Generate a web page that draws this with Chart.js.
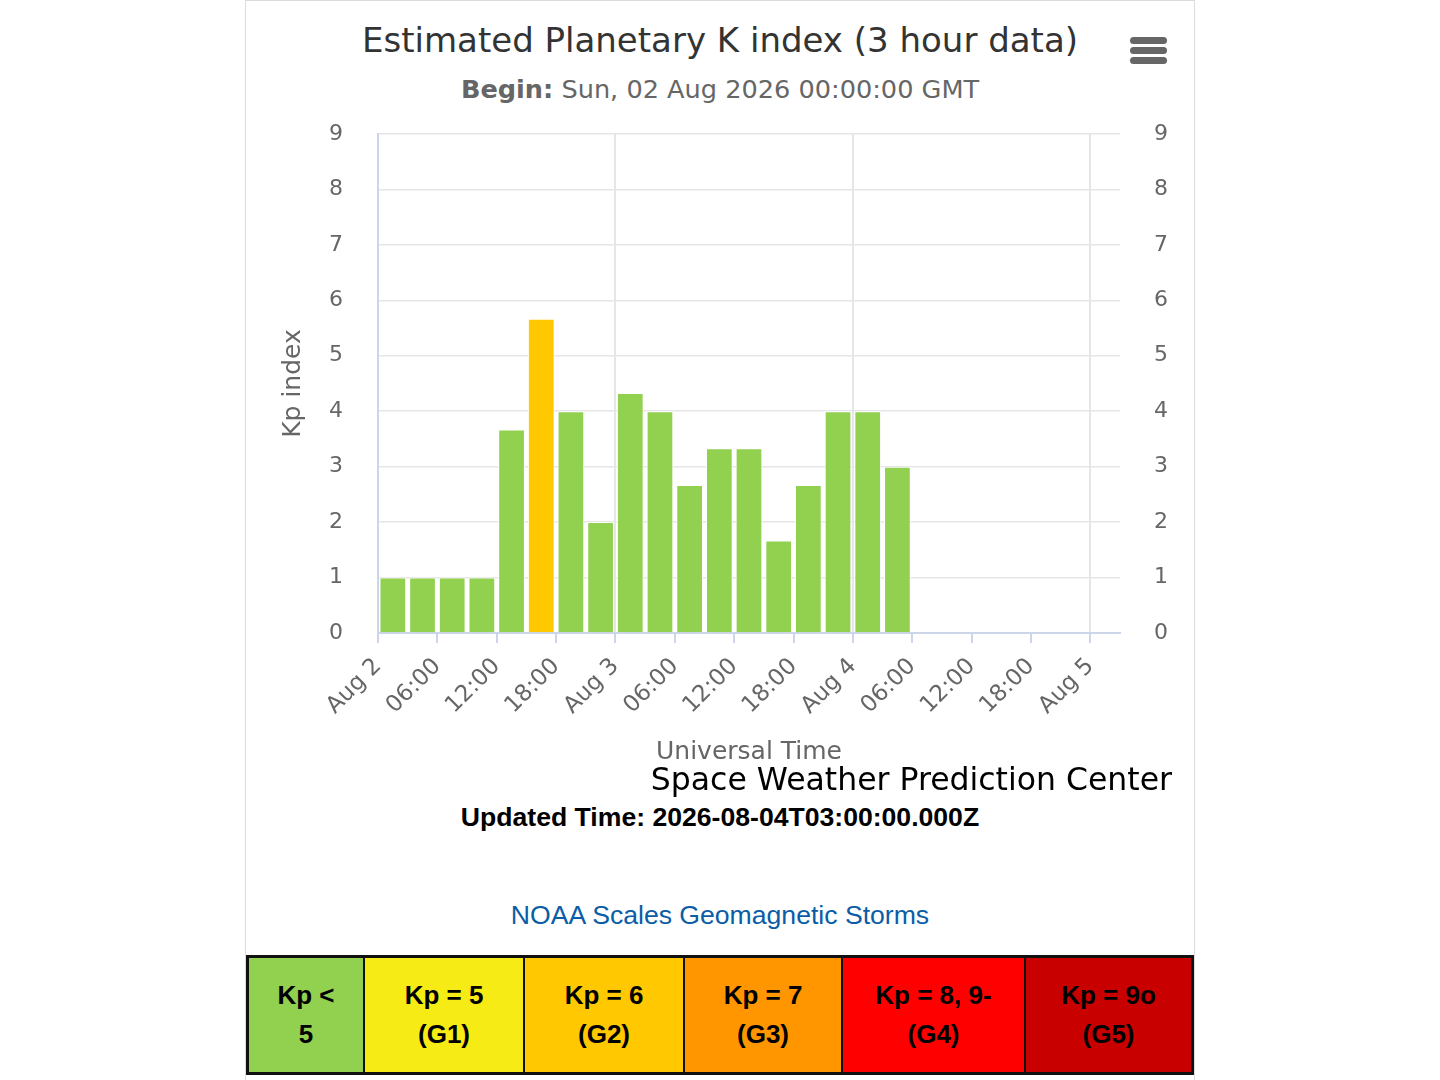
<!DOCTYPE html>
<html>
<head>
<meta charset="utf-8">
<title>Estimated Planetary K index</title>
<script src="https://cdn.jsdelivr.net/npm/chart.js@4.4.1/dist/chart.umd.min.js"></script>
<style>
  body { margin: 0; width: 1440px; height: 1080px; background: #fff; position: relative; overflow: hidden; font-family: 'DejaVu Sans', sans-serif; }
  #frame { position: absolute; left: 245px; top: 0; width: 948px; height: 1100px; border: 1px solid #dcdcdc; }
  #title { position: absolute; left: 245px; width: 950px; top: 20px; line-height: 40px; font-size: 34px; color: #333; text-align: center; }
  #subtitle { position: absolute; left: 245px; width: 950px; top: 74px; line-height: 30px; font-size: 25.6px; color: #666; text-align: center; }
  #menu { position: absolute; left: 1130px; top: 37px; width: 37px; }
  #menu div { height: 7px; margin-bottom: 3px; background: #666; border-radius: 3.5px; }
  #box { position: absolute; left: 245px; top: 110px; width: 950px; height: 660px; }
  #credits { position: absolute; right: 268px; top: 761px; line-height: 36px; font-size: 31.5px; color: #000; }
  #updated { position: absolute; left: 245px; width: 950px; top: 802px; line-height: 32px; font: bold 26.6px 'Liberation Sans', Arial, sans-serif; color: #000; text-align: center; }
  #noaa { position: absolute; left: 245px; width: 950px; top: 900px; line-height: 32px; font: 26.6px 'Liberation Sans', Arial, sans-serif; color: #0a5da6; text-align: center; }
  #scales { position: absolute; left: 246px; top: 955px; width: 948px; height: 120px; border-collapse: collapse; table-layout: fixed; border: 3px solid #111; }
  #scales td { border: 2px solid #111; text-align: center; vertical-align: middle; font: bold 26px/39px 'Liberation Sans', Arial, sans-serif; color: #000; padding: 0; }
</style>
</head>
<body>
<div id="frame"></div>
<div id="title">Estimated Planetary K index (3 hour data)</div>
<div id="subtitle"><b>Begin:</b> Sun, 02 Aug 2026 00:00:00 GMT</div>
<div id="menu"><div></div><div></div><div></div></div>
<div id="box"><canvas id="kpChart"></canvas></div>
<div id="credits">Space Weather Prediction Center</div>
<div id="updated">Updated Time: 2026-08-04T03:00:00.000Z</div>
<div id="noaa">NOAA Scales Geomagnetic Storms</div>
<table id="scales">
  <tr>
    <td style="width:114px;background:#92d050">Kp &lt;<br>5</td>
    <td style="width:158px;background:#f6eb14">Kp = 5<br>(G1)</td>
    <td style="width:158px;background:#ffc800">Kp = 6<br>(G2)</td>
    <td style="width:156px;background:#ff9600">Kp = 7<br>(G3)</td>
    <td style="width:181px;background:#ff0000">Kp = 8, 9-<br>(G4)</td>
    <td style="background:#c80000">Kp = 9o<br>(G5)</td>
  </tr>
</table>
<script>
// 3 hour periods (start time, UTC)
const timeTags = [
  "2026-08-02T00:00Z", "2026-08-02T03:00Z", "2026-08-02T06:00Z", "2026-08-02T09:00Z",
  "2026-08-02T12:00Z", "2026-08-02T15:00Z", "2026-08-02T18:00Z", "2026-08-02T21:00Z",
  "2026-08-03T00:00Z", "2026-08-03T03:00Z", "2026-08-03T06:00Z", "2026-08-03T09:00Z",
  "2026-08-03T12:00Z", "2026-08-03T15:00Z", "2026-08-03T18:00Z", "2026-08-03T21:00Z",
  "2026-08-04T00:00Z", "2026-08-04T03:00Z"
];
// estimated Kp for each period
const kpValues = [1, 1, 1, 1, 3.67, 5.67, 4, 2, 4.33, 4, 2.67, 3.33, 3.33, 1.67, 2.67, 4, 4, 3];
// x axis labels, one every 6 hours from Aug 2
const tickLabels = ["Aug 2", "06:00", "12:00", "18:00", "Aug 3", "06:00", "12:00", "18:00",
  "Aug 4", "06:00", "12:00", "18:00", "Aug 5"];
const kpTicks = [0, 1, 2, 3, 4, 5, 6, 7, 8, 9];

const beginTime = Date.parse("2026-08-02T00:00Z");
const HOUR = 3600 * 1000;

//NOAA G scale colours
function kpColor(kp) {
  const k = Math.round(kp);
  if (k < 5) return "#92d050";
  if (k === 5) return "#f6eb14";
  if (k === 6) return "#ffc800";
  if (k === 7) return "#ff9600";
  if (k < 9) return "#ff0000";
  return "#c80000";
}

//bars sit in the middle of their 3 hour period
const points = timeTags.map((t, i) => ({
  x: (Date.parse(t) - beginTime) / HOUR + 1.5,
  y: kpValues[i],
}));

const labelFont = { family: "'DejaVu Sans', sans-serif", size: 22 };
const titleFont = { family: "'DejaVu Sans', sans-serif", size: 25 };

const ctx = document.getElementById("kpChart").getContext("2d");
new Chart(ctx, {
  type: "bar",
  data: {
    datasets: [
      {
        label: "Kp",
        data: points,
        backgroundColor: kpValues.map(kpColor),
        borderColor: "#ffffff",
        borderWidth: 1,
        barPercentage: 0.9,
        categoryPercentage: 1,
        yAxisID: "y",
      },
    ],
  },
  options: {
    responsive: true,
    maintainAspectRatio: false,
    animation: false,
    layout: { padding: { top: 24, left: 0, right: 0, bottom: 0 } },
    plugins: {
      legend: { display: false },
      title: { display: false },
      tooltip: { enabled: false },
    },
    scales: {
      x: {
        type: "linear",
        min: 0,
        max: 75,
        offset: false,
        afterBuildTicks: (scale) => {
          scale.ticks = tickLabels.map((_, i) => ({ value: i * 6 }));
        },
        afterFit: (scale) => {
          scale.height = 137;
        },
        ticks: {
          autoSkip: false,
          minRotation: 45,
          maxRotation: 45,
          padding: 10,
          color: "#666",
          font: { family: "'DejaVu Sans', sans-serif", size: 23 },
          callback: (value, index) => tickLabels[index],
        },
        grid: {
          offset: false,
          color: (c) => (c.tick && c.tick.value % 24 === 0 && c.tick.value > 0 ? "#e6e6e6" : "rgba(0,0,0,0)"),
          lineWidth: 2,
          tickColor: "#ccd6eb",
          tickWidth: 2,
          tickLength: 10,
        },
        border: { color: "#ccd6eb", width: 2 },
        title: {
          display: true,
          text: "Universal Time",
          color: "#666",
          font: titleFont,
          padding: { top: 0, bottom: 3 },
        },
      },
      y: {
        position: "left",
        min: 0,
        max: 9,
        afterBuildTicks: (scale) => {
          scale.ticks = kpTicks.map((v) => ({ value: v }));
        },
        afterFit: (scale) => {
          scale.width = 133;
        },
        //the long invisible tick mark keeps labels away from the plot
        ticks: { color: "#666", font: labelFont, padding: 2 },
        grid: { color: "#e6e6e6", lineWidth: 1.5, drawTicks: true, tickLength: 33, tickColor: "rgba(0,0,0,0)" },
        border: { color: "#ccd6eb", width: 2 },
        title: {
          display: true,
          text: "Kp index",
          color: "#666",
          font: titleFont,
          padding: { top: 33, bottom: 0 },
        },
      },
      y2: {
        position: "right",
        min: 0,
        max: 9,
        afterBuildTicks: (scale) => {
          scale.ticks = kpTicks.map((v) => ({ value: v }));
        },
        afterFit: (scale) => {
          scale.width = 75;
        },
        ticks: { color: "#666", font: labelFont, padding: 2 },
        grid: { drawOnChartArea: false, drawTicks: true, tickLength: 32, tickColor: "rgba(0,0,0,0)" },
        border: { display: false },
      },
    },
  },
});
</script>
</body>
</html>
